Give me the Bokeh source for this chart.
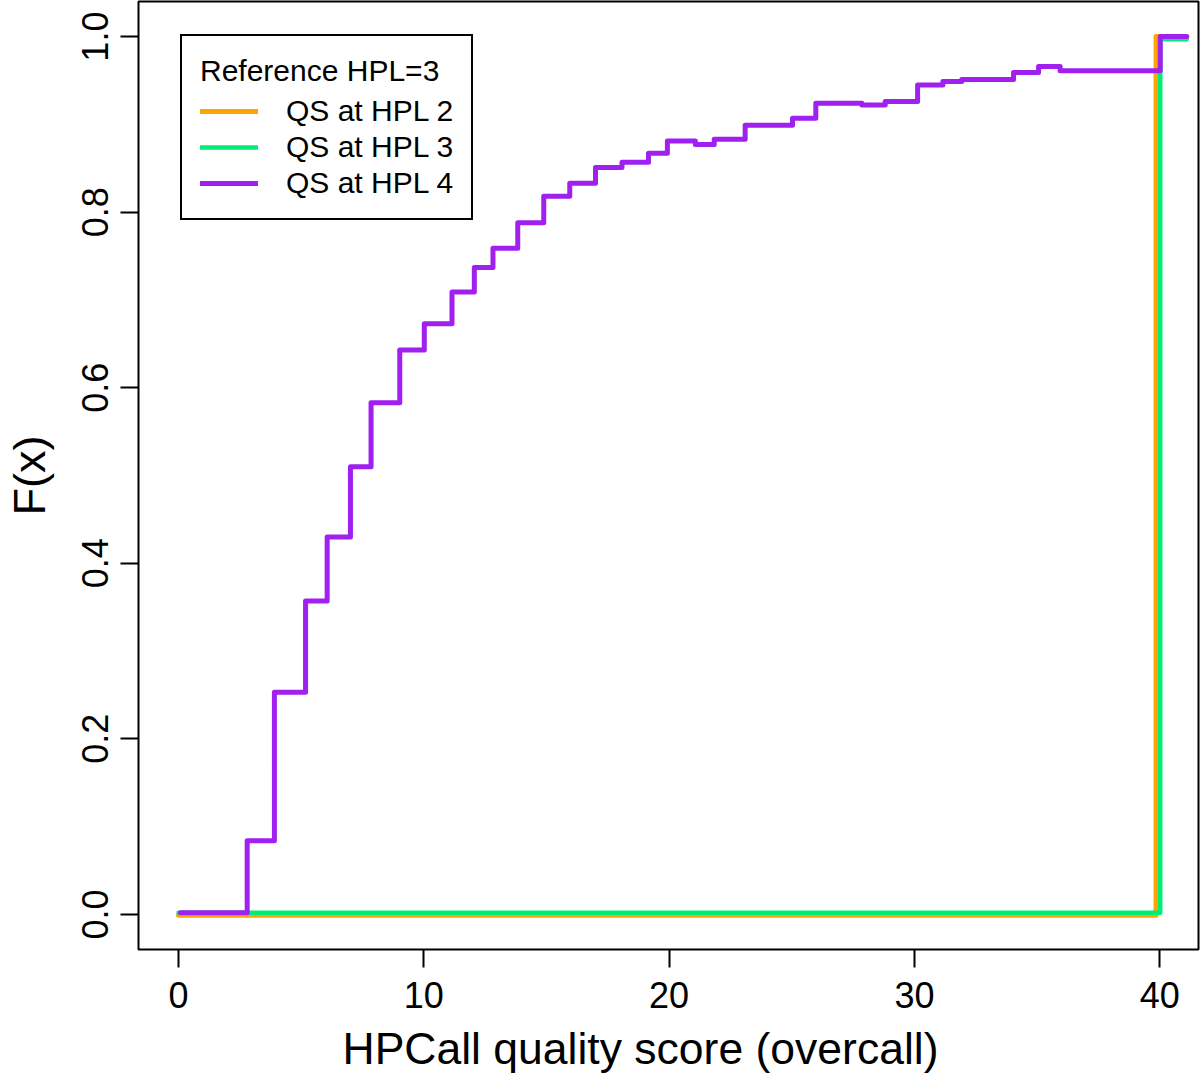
from bokeh.plotting import figure
from bokeh.models import Range1d, FixedTicker, PrintfTickFormatter, Legend, LegendItem, Title
from bokeh.embed import file_html
from bokeh.resources import INLINE

qs2_x = [0.0, 39.85, 41.10]
qs2_y = [-0.001, 1.0, 1.0]

qs3_x = [0.0, 40.02, 41.10]
qs3_y = [0.002, 0.997, 0.997]

qs4_x = [0.08, 2.80, 3.91, 5.18, 6.06, 7.01, 7.85, 9.02, 10.02, 11.15, 12.06,
         12.82, 13.83, 14.89, 15.95, 17.00, 18.08, 19.16, 19.93, 21.07, 21.84,
         23.10, 25.03, 25.98, 27.86, 28.81, 30.13, 31.16, 31.93, 34.04, 35.06,
         35.94, 40.02, 41.10]
qs4_y = [0.002, 0.084, 0.253, 0.357, 0.430, 0.510, 0.583, 0.643, 0.673, 0.709,
         0.737, 0.759, 0.788, 0.818, 0.833, 0.851, 0.857, 0.867, 0.881, 0.877,
         0.883, 0.899, 0.907, 0.924, 0.922, 0.926, 0.945, 0.949, 0.951, 0.959,
         0.966, 0.961, 1.0, 1.0]

series_labels = ["QS at HPL 2", "QS at HPL 3", "QS at HPL 4"]
series_colors = ["#FFA500", "#00EE76", "#A020F0"]
legend_title = "Reference HPL=3"
x_title = "HPCall quality score (overcall)"
y_title = "F(x)"
x_ticks = [0, 10, 20, 30, 40]
y_ticks = [0.0, 0.2, 0.4, 0.6, 0.8, 1.0]

FONT = "Liberation Sans"

p = figure(width=1200, height=1084, output_backend="svg", toolbar_location=None,
           x_range=Range1d(-1.63, 41.58), y_range=Range1d(-0.04, 1.04),
           min_border_left=138, min_border_right=2, min_border_top=1,
           min_border_bottom=135)

p.xgrid.visible = False
p.ygrid.visible = False
p.outline_line_color = "black"
p.outline_line_width = 2
p.outline_line_alpha = 1.0
p.background_fill_color = "white"
p.border_fill_color = "white"

for ax in (p.xaxis[0], p.yaxis[0]):
    ax.axis_line_color = None
    ax.major_tick_in = 0
    ax.major_tick_out = 18
    ax.major_tick_line_width = 2
    ax.major_tick_line_color = "black"
    ax.minor_tick_line_color = None
    ax.major_label_text_font = FONT
    ax.major_label_text_font_size = "36px"
    ax.major_label_text_color = "black"
    ax.axis_label_text_font = FONT
    ax.axis_label_text_font_size = "45px"
    ax.axis_label_text_font_style = "normal"
    ax.axis_label_text_color = "black"

p.xaxis[0].ticker = FixedTicker(ticks=x_ticks)
p.yaxis[0].ticker = FixedTicker(ticks=y_ticks)
p.yaxis[0].formatter = PrintfTickFormatter(format="%.1f")
p.yaxis[0].major_label_orientation = "vertical"
p.yaxis[0].axis_label = y_title
p.xaxis[0].major_label_standoff = 14
p.yaxis[0].major_label_standoff = 12
p.yaxis[0].axis_label_standoff = 25

# x-axis title, placed as in the reference (slightly left of the frame centre)
xt = Title(text=x_title, align="left", offset=204, standoff=22,
           text_font=FONT, text_font_size="44.5px", text_font_style="normal",
           text_color="black")
p.add_layout(xt, "below")

r2 = p.step(qs2_x, qs2_y, mode="after", line_color=series_colors[0], line_width=5,
            line_cap="round", line_join="round")
r3 = p.step(qs3_x, qs3_y, mode="after", line_color=series_colors[1], line_width=4.5,
            line_cap="round", line_join="round")
r4 = p.step(qs4_x, qs4_y, mode="after", line_color=series_colors[2], line_width=5,
            line_cap="round", line_join="round")

legend = Legend(items=[LegendItem(label=series_labels[0], renderers=[r2]),
                       LegendItem(label=series_labels[1], renderers=[r3]),
                       LegendItem(label=series_labels[2], renderers=[r4])],
                location=(42, 729))
legend.title = legend_title
legend.title_text_font = FONT
legend.title_text_font_size = "30px"
legend.title_text_font_style = "normal"
legend.title_text_color = "black"
legend.title_standoff = 6
legend.label_text_font = FONT
legend.label_text_font_size = "30px"
legend.label_text_color = "black"
legend.glyph_width = 58
legend.glyph_height = 20
legend.label_standoff = 28
legend.padding = 18
legend.spacing = 2
legend.margin = 0
legend.border_line_color = "black"
legend.border_line_width = 2
legend.border_line_alpha = 1.0
legend.background_fill_color = "white"
legend.background_fill_alpha = 1.0
p.add_layout(legend, "center")

open("out.html", "w").write(file_html(p, INLINE))
